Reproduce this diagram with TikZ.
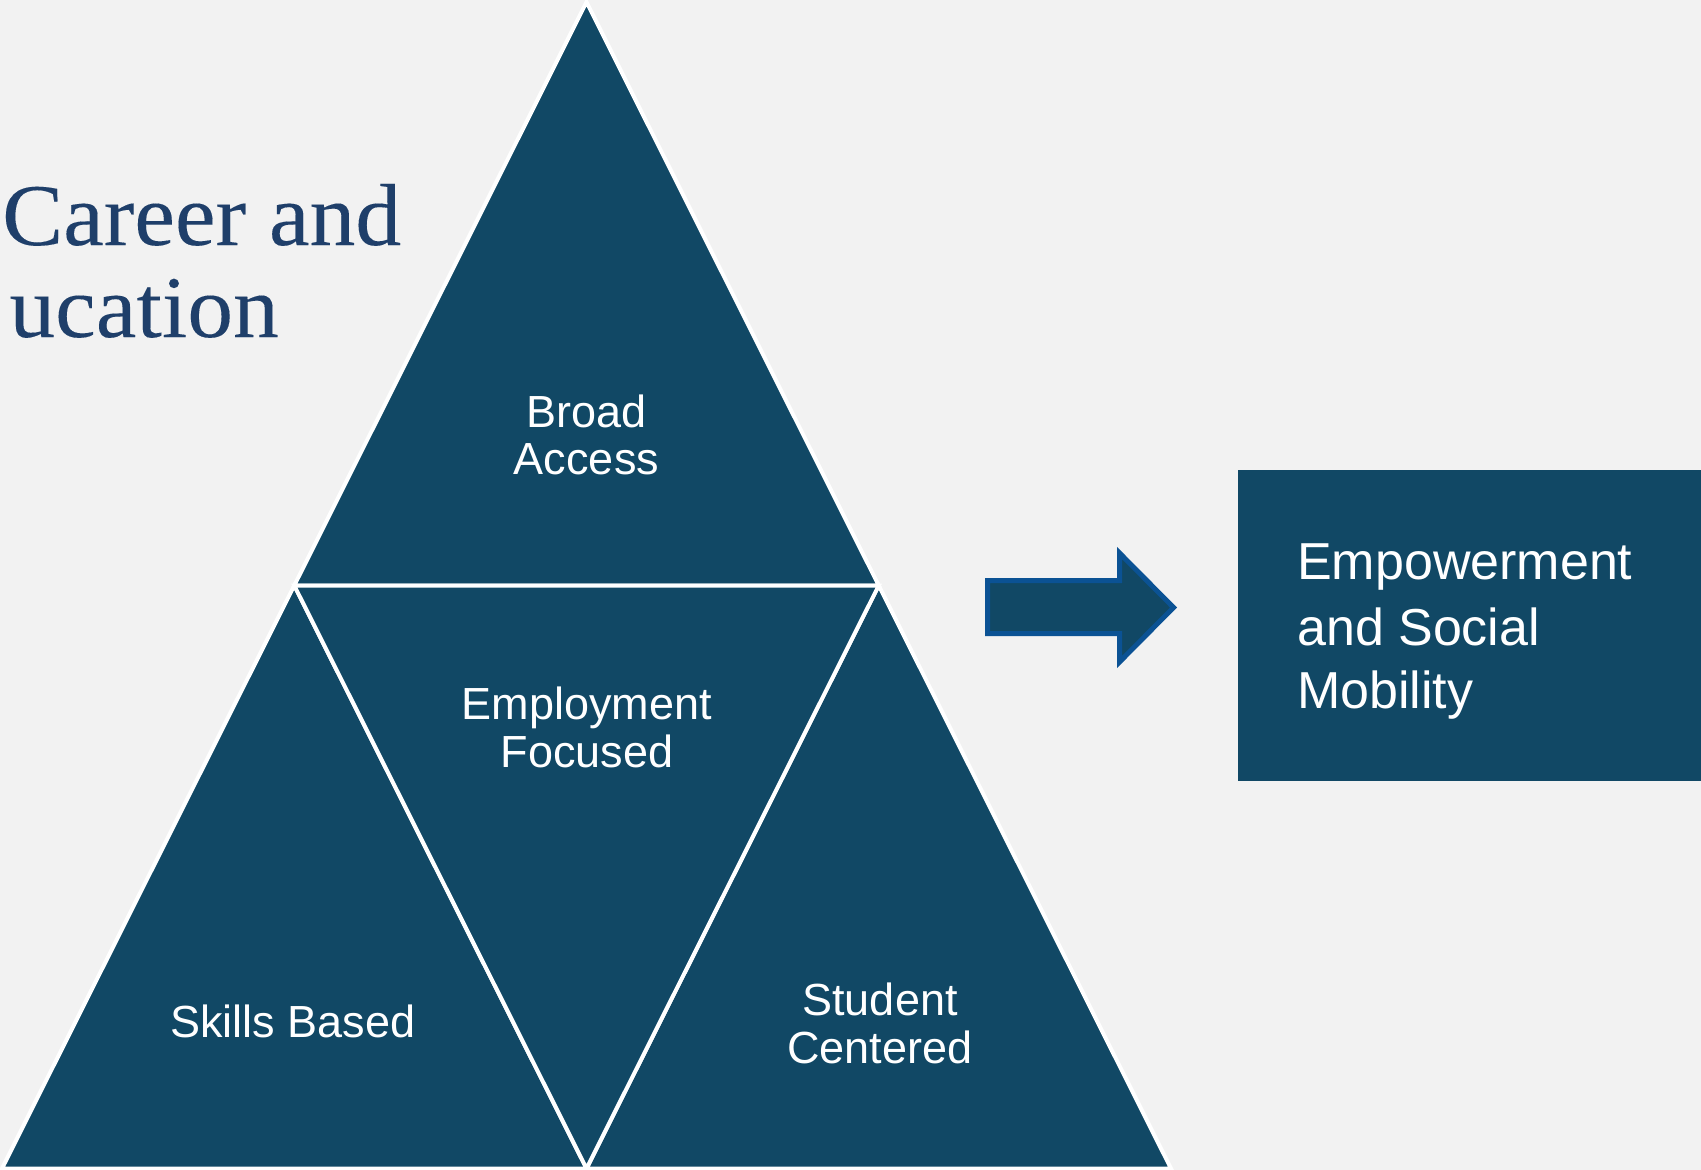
\documentclass[tikz,border=0pt]{standalone}
\usepackage{fontspec}
\setmainfont{Liberation Sans}
\newfontfamily\titlefont[FakeStretch=1.04,FakeBold=0.1]{Liberation Serif}
\definecolor{bg}{RGB}{242,242,242}
\definecolor{dark}{RGB}{17,72,101}
\definecolor{arrowline}{RGB}{11,82,148}
\definecolor{titlecol}{RGB}{31,63,106}
\begin{document}
\begin{tikzpicture}[x=1pt,y=-1pt,
  tri/.style={fill=dark,draw=white,line width=4pt,line join=miter},
  lbl/.style={text=white,inner sep=0pt,anchor=base,font=\fontsize{45}{47}\selectfont},
  boxlbl/.style={text=white,inner sep=0pt,anchor=base west,font=\fontsize{52}{60}\selectfont},
  ttl/.style={text=titlecol,inner sep=0pt,font=\titlefont\fontsize{88}{92}\selectfont}]
\useasboundingbox (0,0) rectangle (1701,1170);
\clip (0,0) rectangle (1701,1170);
\fill[bg] (0,0) rectangle (1701,1170);
% title (cut off at the left in the reference)
\node[ttl,anchor=base west] (t1) at (2,245) {Career and};
\node[ttl,anchor=base east] (t2) at (279,337) {ucation};
% pyramid corners
\coordinate (A) at (586.5,2);
\coordinate (L) at (2,1168.5);
\coordinate (R) at (1171,1168.5);
\coordinate (ML) at (294.25,585.5);
\coordinate (MR) at (878.75,585.5);
\coordinate (MB) at (586.5,1168.5);
\draw[tri] (A) -- (MR) -- (ML) -- cycle;
\draw[tri] (ML) -- (MB) -- (L) -- cycle;
\draw[tri] (MR) -- (R) -- (MB) -- cycle;
\draw[tri] (ML) -- (MR) -- (MB) -- cycle;
% labels
\node[lbl] (b1) at (586.5,427) {Broad};
\node[lbl] (b2) at (586.5,474) {Access};
\node[lbl] (e1) at (587,719) {Employment};
\node[lbl] (e2) at (587,767) {Focused};
\node[lbl] (s1) at (293,1037) {Skills Based};
\node[lbl] (c1) at (880,1015) {Student};
\node[lbl] (c2) at (880,1063) {Centered};
% block arrow
\draw[fill=dark,draw=arrowline,line width=5pt,line join=miter]
  (987.5,580.5) -- (1119.5,580.5) -- (1119.5,553) -- (1173.5,607.5)
  -- (1119.5,662) -- (1119.5,633.5) -- (987.5,633.5) -- cycle;
% result box
\fill[dark] (1238,470) rectangle (1710,781);
\node[boxlbl] (m1) at (1297,579) {Empowerment};
\node[boxlbl] (m2) at (1297,645) {and Social};
\node[boxlbl] (m3) at (1297,708) {Mobility};
\end{tikzpicture}
\end{document}
